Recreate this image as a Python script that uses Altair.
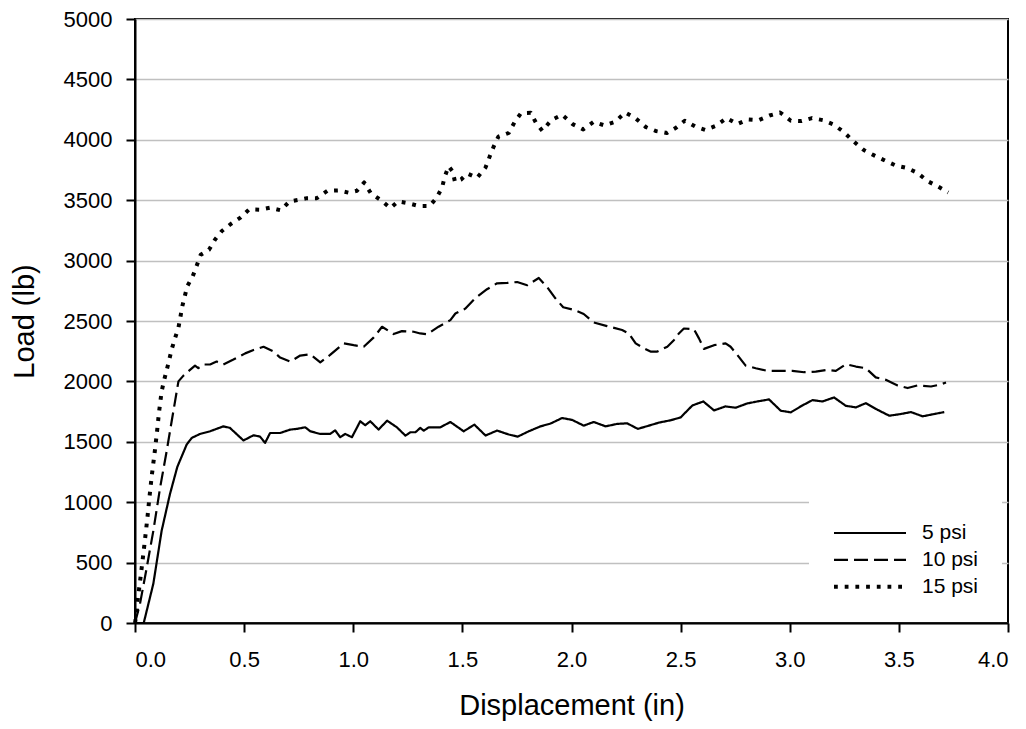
import altair as alt
import pandas as pd

series_names = ["5 psi", "10 psi", "15 psi"]

x5 = [0.0, 0.04, 0.084, 0.122, 0.16, 0.194, 0.237, 0.26, 0.298, 0.344, 0.405, 0.435, 0.497, 0.543, 0.573,
      0.596, 0.619, 0.665, 0.711, 0.742, 0.78, 0.803, 0.849, 0.894, 0.917, 0.94, 0.963, 0.994, 1.032, 1.055,
      1.078, 1.116, 1.155, 1.2, 1.239, 1.262, 1.285, 1.307, 1.323, 1.346, 1.399, 1.445, 1.506, 1.555, 1.606,
      1.659, 1.713, 1.754, 1.804, 1.858, 1.904, 1.957, 2.003, 2.056, 2.102, 2.156, 2.209, 2.255, 2.304, 2.355,
      2.401, 2.454, 2.5, 2.554, 2.604, 2.653, 2.706, 2.752, 2.806, 2.852, 2.905, 2.959, 3.005, 3.058, 3.104,
      3.15, 3.203, 3.257, 3.303, 3.349, 3.402, 3.456, 3.509, 3.555, 3.609, 3.662, 3.708]
y5 = [0, 0, 325, 763, 1066, 1293, 1478, 1532, 1565, 1587, 1628, 1615, 1511, 1554, 1543,
      1491, 1573, 1573, 1601, 1607, 1620, 1587, 1565, 1565, 1595, 1538, 1565, 1538, 1670, 1637,
      1670, 1601, 1675, 1620, 1551, 1579, 1579, 1615, 1592, 1620, 1620, 1664, 1587, 1642, 1552,
      1593, 1560, 1543, 1587, 1628, 1651, 1697, 1681, 1634, 1664, 1628, 1648, 1653, 1607, 1634,
      1659, 1678, 1702, 1801, 1834, 1760, 1793, 1782, 1818, 1834, 1851, 1757, 1744, 1801, 1845,
      1834, 1867, 1798, 1785, 1820, 1765, 1716, 1730, 1746, 1711, 1730, 1746]

x10 = [0.0, 0.023, 0.054, 0.084, 0.115, 0.145, 0.168, 0.199, 0.222, 0.252, 0.275, 0.29, 0.313, 0.344, 0.374,
       0.405, 0.451, 0.505, 0.543, 0.589, 0.635, 0.665, 0.711, 0.757, 0.803, 0.849, 0.894, 0.956, 1.002, 1.048,
       1.093, 1.132, 1.185, 1.223, 1.277, 1.307, 1.338, 1.391, 1.445, 1.468, 1.514, 1.56, 1.613, 1.659, 1.705,
       1.751, 1.797, 1.85, 1.888, 1.927, 1.962, 2.01, 2.056, 2.102, 2.163, 2.232, 2.263, 2.294, 2.332, 2.362,
       2.393, 2.439, 2.47, 2.492, 2.515, 2.561, 2.584, 2.607, 2.653, 2.706, 2.729, 2.76, 2.798, 2.844, 2.898,
       2.959, 3.012, 3.066, 3.119, 3.173, 3.211, 3.257, 3.303, 3.349, 3.394, 3.44, 3.494, 3.54, 3.586, 3.647,
       3.685, 3.716]
y10 = [0, 160, 461, 763, 1120, 1422, 1670, 2000, 2048, 2095, 2130, 2110, 2140, 2140, 2164,
       2140, 2181, 2232, 2260, 2287, 2247, 2197, 2164, 2214, 2225, 2158, 2219, 2315, 2300, 2287,
       2362, 2452, 2392, 2416, 2411, 2397, 2390, 2453, 2507, 2562, 2603, 2691, 2763, 2812, 2815,
       2823, 2796, 2856, 2782, 2686, 2614, 2593, 2558, 2488, 2458, 2425, 2397, 2315, 2274, 2247,
       2247, 2287, 2343, 2397, 2438, 2433, 2356, 2269, 2300, 2315, 2287, 2219, 2131, 2109, 2087,
       2087, 2087, 2076, 2081, 2095, 2087, 2142, 2123, 2109, 2033, 2013, 1967, 1945, 1967, 1958,
       1972, 1991]

x15 = [0.0, 0.008, 0.012, 0.023, 0.035, 0.046, 0.057, 0.066, 0.077, 0.089, 0.1, 0.11, 0.122, 0.133, 0.145,
       0.157, 0.168, 0.183, 0.199, 0.208, 0.216, 0.228, 0.24, 0.265, 0.283, 0.301, 0.339, 0.367, 0.398, 0.439,
       0.485, 0.523, 0.57, 0.619, 0.668, 0.708, 0.752, 0.788, 0.833, 0.882, 0.933, 0.979, 1.017, 1.05, 1.081,
       1.124, 1.17, 1.205, 1.254, 1.3, 1.35, 1.381, 1.407, 1.419, 1.437, 1.456, 1.466, 1.494, 1.522, 1.567,
       1.606, 1.625, 1.644, 1.665, 1.713, 1.74, 1.769, 1.813, 1.838, 1.866, 1.908, 1.957, 2.005, 2.054, 2.102,
       2.151, 2.2, 2.246, 2.292, 2.341, 2.388, 2.437, 2.479, 2.519, 2.566, 2.615, 2.662, 2.711, 2.76, 2.809,
       2.858, 2.907, 2.956, 3.005, 3.054, 3.102, 3.151, 3.2, 3.248, 3.294, 3.341, 3.389, 3.437, 3.486, 3.535,
       3.584, 3.633, 3.68, 3.726]
y15 = [0, 91, 187, 343, 522, 695, 873, 1038, 1222, 1395, 1568, 1744, 1917, 2007, 2092,
       2180, 2265, 2356, 2444, 2532, 2617, 2705, 2790, 2872, 2960, 3048, 3089, 3175, 3245, 3303,
       3358, 3424, 3421, 3438, 3416, 3490, 3504, 3517, 3517, 3578, 3581, 3562, 3578, 3647, 3556,
       3504, 3435, 3490, 3474, 3452, 3452, 3517, 3605, 3693, 3781, 3737, 3652, 3671, 3721, 3685,
       3770, 3861, 3946, 4026, 4058, 4149, 4221, 4224, 4138, 4075, 4163, 4207, 4130, 4086, 4149,
       4119, 4149, 4226, 4180, 4105, 4072, 4056, 4100, 4158, 4111, 4081, 4116, 4180, 4130, 4169,
       4163, 4201, 4226, 4158, 4155, 4180, 4163, 4127, 4064, 3984, 3913, 3869, 3828, 3787, 3768,
       3727, 3656, 3613, 3564]

x_ticks = [0.0, 0.5, 1.0, 1.5, 2.0, 2.5, 3.0, 3.5, 4.0]
y_ticks = [0, 500, 1000, 1500, 2000, 2500, 3000, 3500, 4000, 4500, 5000]

rows = []
for name, xs, ys in [("5 psi", x5, y5), ("10 psi", x10, y10), ("15 psi", x15, y15)]:
    for i, (a, b) in enumerate(zip(xs, ys)):
        rows.append({"series": name, "disp": a, "load": b, "order": i})
df = pd.DataFrame(rows)

FONT = "Liberation Sans"

legend = alt.Legend(
    title=None, orient="none", legendX=674, legendY=481,
    fillColor="white", padding=23,
    symbolType="stroke", symbolSize=5184, symbolStrokeColor="black",
    labelFont=FONT, labelFontSize=21, labelColor="black", labelOffset=14,
    clipHeight=20, rowPadding=5.9,
)

chart = alt.Chart(df).mark_line(color="black", strokeCap="butt", strokeJoin="round").encode(
    x=alt.X("disp:Q", scale=alt.Scale(domain=[0, 4], nice=False),
            axis=alt.Axis(values=x_ticks, format=".1f", title="Displacement (in)", grid=False,
                          labelPadding=17, titlePadding=21)),
    y=alt.Y("load:Q", scale=alt.Scale(domain=[0, 5000], nice=False),
            axis=alt.Axis(values=y_ticks, format="d", title="Load (lb)", grid=True,
                          labelPadding=14, titlePadding=24)),
    strokeDash=alt.StrokeDash("series:N",
                              scale=alt.Scale(domain=series_names, range=[[1, 0], [14, 6], [3.8, 6.9]]),
                              legend=legend),
    strokeWidth=alt.StrokeWidth("series:N",
                                scale=alt.Scale(type="ordinal", domain=series_names, range=[2.2, 2.2, 4]),
                                legend=legend),
    detail="series:N",
    order="order:Q",
).properties(
    width=873, height=604, background="white",
    autosize=alt.AutoSizeParams(type="none"),
    padding={"left": 127, "top": 11, "right": 10, "bottom": 100},
).configure_view(
    stroke="black", strokeWidth=2
).configure_axis(
    labelFont=FONT, labelFontSize=22, labelColor="black",
    titleFont=FONT, titleFontSize=29, titleFontWeight="normal", titleColor="black",
    domainColor="black", domainWidth=2, tickColor="black", tickWidth=2, tickSize=9,
    gridColor="#c0c0c0", gridWidth=1.5,
)

chart.save("out.html", embed_options={"renderer": "svg", "actions": False})
